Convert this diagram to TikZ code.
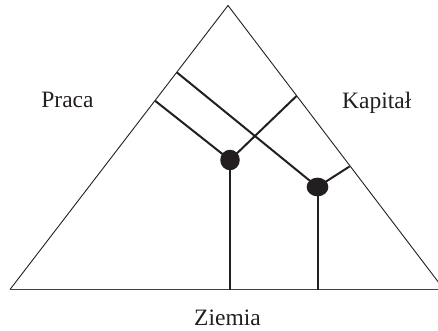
\documentclass[tikz,border=0pt]{standalone}
\usepackage{fontspec}
\setmainfont{Liberation Serif}
\usetikzlibrary{shapes.geometric}
\definecolor{ink}{HTML}{231F20}
\begin{document}
\begin{tikzpicture}[x=1pt,y=-1pt,
  side/.style={draw=ink,line width=0.9pt},
  baseline/.style={draw=ink!85,line width=1.4pt},
  bar/.style={draw=ink,line width=2pt},
  dot/.style={ellipse,fill=ink,inner sep=0pt},
  lbl/.style={anchor=base,text=ink,font=\fontsize{23.5}{28}\selectfont}]
\useasboundingbox (0,0) rectangle (438,331);
\coordinate (T) at (228,5.5);
\coordinate (L) at (10,289.5);
\coordinate (R) at (444,289.5);
\coordinate (P1) at (230,160);
\coordinate (P2) at (317.5,187);
\coordinate (a1) at (155,100.7);
\coordinate (b1) at (296.5,96);
\coordinate (a2) at (176.7,72.3);
\coordinate (b2) at (349.5,166.5);
\coordinate (g1) at (230,289.5);
\coordinate (g2) at (317.5,289.5);
\begin{scope}
\clip (0,0) rectangle (438,331);
\draw[side] (L) -- (T) -- (R);
\draw[baseline] (L) -- (R);
\end{scope}
\draw[bar] (a1) -- (P1) -- (b1);
\draw[bar] (P1) -- (g1);
\draw[bar] (a2) -- (P2) -- (b2);
\draw[bar] (P2) -- (g2);
\node[dot,minimum width=19.5pt,minimum height=20.5pt] (d1) at (P1) {};
\node[dot,minimum width=21.7pt,minimum height=18.7pt] (d2) at (P2) {};
\node[lbl] (praca) at (67.5,107.3) {Praca};
\node[lbl] (kap) at (376.7,108.3) {Kapitał};
\node[lbl] (ziemia) at (227.5,325) {Ziemia};
\end{tikzpicture}
\end{document}
